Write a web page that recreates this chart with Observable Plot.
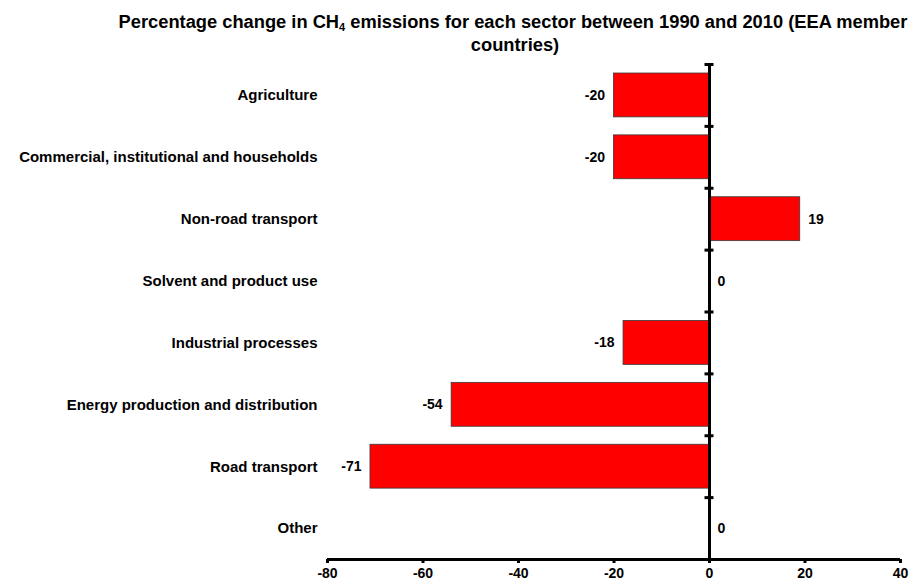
<!DOCTYPE html>
<html>
<head>
<meta charset="utf-8">
<script src="https://cdn.jsdelivr.net/npm/d3@7"></script>
<script src="https://cdn.jsdelivr.net/npm/@observablehq/plot@0.6"></script>
<style>
  body { margin: 0; background: #fff; }
  #wrap { position: relative; width: 914px; height: 582px; overflow: hidden; }
  .title { position: absolute; text-align: center; white-space: nowrap;
    font-family: "Liberation Sans", Arial, sans-serif;
    font-weight: bold; font-size: 18.3px; line-height: 22px; color: #000; }
  #t1 { left: 63px; width: 900px; top: 11px; }
  #t2 { left: 65px; width: 900px; top: 34px; }
  .title sub { font-size: 11px; vertical-align: -3px; line-height: 0; }
  #chart { position: absolute; left: 0; top: 0; }
</style>
</head>
<body>
<div id="wrap">
  <div id="chart"></div>
  <div class="title" id="t1">Percentage change in CH<sub>4</sub> emissions for each sector between 1990 and 2010 (EEA member</div>
  <div class="title" id="t2">countries)</div>
</div>
<script>
const sectors = [
  "Agriculture",
  "Commercial, institutional and households",
  "Non-road transport",
  "Solvent and product use",
  "Industrial processes",
  "Energy production and distribution",
  "Road transport",
  "Other"
];
const changes = [-20, -20, 19, 0, -18, -54, -71, 0];
const xTicks = [-80, -60, -40, -20, 0, 20, 40];

const data = sectors.map((s, i) => ({sector: s, i, value: changes[i]}));
const boundaries = d3.range(sectors.length + 1).map(k => k - 0.5);
const font = "Liberation Sans, Arial, sans-serif";

const chart = Plot.plot({
  width: 914,
  height: 582,
  marginLeft: 327,
  marginRight: 14,
  marginTop: 64,
  marginBottom: 23,
  style: {fontFamily: font, fontWeight: "bold", fontSize: "13px", color: "#000", background: "#fff"},
  x: {domain: [-80, 40], label: null},
  y: {domain: [-0.5, sectors.length - 0.5], reverse: true, label: null},
  marks: [
    Plot.rectX(data, {
      x1: 0, x2: "value",
      y1: d => d.i - 0.5, y2: d => d.i + 0.5,
      insetTop: 9, insetBottom: 9,
      fill: "#ff0000", stroke: "#3a3a3a", strokeWidth: 0.8
    }),
    Plot.axisY(d3.range(sectors.length), {
      anchor: "left", tickSize: 0, tickPadding: 10, label: null,
      tickFormat: i => sectors[i], fontSize: 15, fontWeight: "bold"
    }),
    Plot.axisX(xTicks, {
      anchor: "bottom", tickSize: 4, tickPadding: 5, strokeWidth: 3,
      tickFormat: d => String(d), fontSize: 14, fontWeight: "bold", label: null
    }),
    Plot.ruleY([sectors.length - 0.5], {x1: -80, x2: 40, stroke: "#000", strokeWidth: 3}),
    Plot.ruleX([0], {y1: -0.5, y2: sectors.length - 0.5, stroke: "#000", strokeWidth: 3}),
    Plot.ruleY(boundaries, {x1: 0, x2: 0, insetLeft: -4.5, insetRight: -4.5, stroke: "#000", strokeWidth: 3}),
    Plot.text(data.filter(d => d.value < 0), {
      x: "value", y: "i", text: d => String(d.value), textAnchor: "end", dx: -9,
      fontSize: 14, fontWeight: "bold", fill: "#000"
    }),
    Plot.text(data.filter(d => d.value >= 0), {
      x: "value", y: "i", text: d => String(d.value), textAnchor: "start", dx: 8,
      fontSize: 14, fontWeight: "bold", fill: "#000"
    })
  ]
});
document.getElementById("chart").appendChild(chart);
</script>
</body>
</html>
